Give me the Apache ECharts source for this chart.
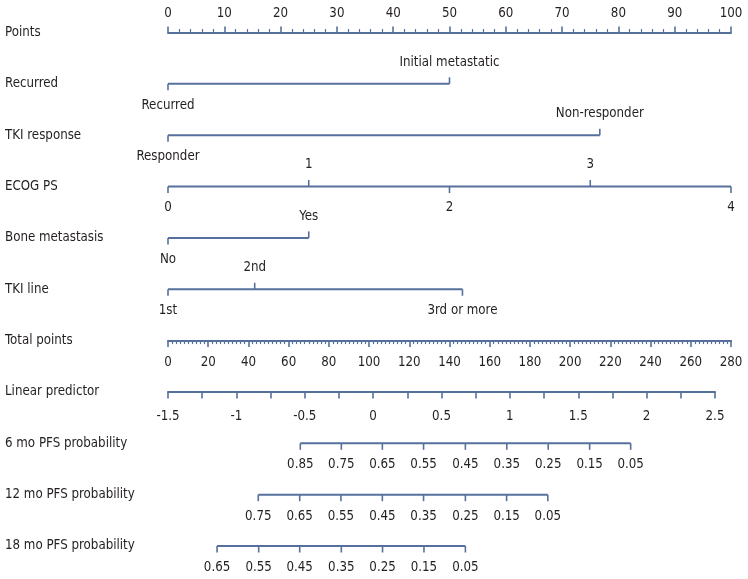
<!DOCTYPE html>
<html><head><meta charset="utf-8">
<script src="https://cdn.jsdelivr.net/npm/echarts@6/dist/echarts.min.js"></script>
<style>html,body{margin:0;padding:0;background:#fff}#c{width:748px;height:579px}</style>
</head><body><div id="c"></div>
<script>
// ---- data ----
const rowNames = ['Points','Recurred','TKI response','ECOG PS','Bone metastasis','TKI line','Total points','Linear predictor','6 mo PFS probability','12 mo PFS probability','18 mo PFS probability'];
const recurredLabels = ['Recurred','Initial metastatic'];
const recurredPoints = [0, 50];
const tkiResponseLabels = ['Responder','Non-responder'];
const tkiResponsePoints = [0, 76.7];
const ecogLabels = ['0','1','2','3','4'];
const ecogPoints = [0, 25, 50, 75, 100];
const boneLabels = ['No','Yes'];
const bonePoints = [0, 25];
const tkiLineLabels = ['1st','2nd','3rd or more'];
const tkiLinePoints = [0, 15.4, 52.3];
// probability scales: tick positions read on the Total points scale
const pfs6Labels = ['0.85','0.75','0.65','0.55','0.45','0.35','0.25','0.15','0.05'];
const pfs6Total = [65.8, 86.2, 106.6, 127.1, 147.9, 168.5, 189.1, 209.7, 230.1];
const pfs12Labels = ['0.75','0.65','0.55','0.45','0.35','0.25','0.15','0.05'];
const pfs12Total = [44.9, 65.5, 86.0, 106.6, 127.1, 147.9, 168.4, 188.9];
const pfs18Labels = ['0.65','0.55','0.45','0.35','0.25','0.15','0.05'];
const pfs18Total = [24.4, 45.1, 65.5, 86.2, 106.7, 127.3, 147.9];
const pointsRange = [0, 100];
const totalRange = [0, 280];
const lpRange = [-1.5, 2.5];

// ---- style ----
const LINE = '#56709c';
const TEXT = '#231f20';
const FONT = "'DejaVu Sans Condensed','Liberation Sans Narrow',sans-serif";
const FS = 13.2;
const TOP = 32.5, STEP = 51.35;

const chart = echarts.init(document.getElementById('c'));

function levelItems(labels, pts, row) {
  return labels.map((l, i) => ({ value: [pts[i], row, i % 2 === 0 ? -1 : 1], name: l }));
}
const varItems = [].concat(
  levelItems(recurredLabels, recurredPoints, 1),
  levelItems(tkiResponseLabels, tkiResponsePoints, 2),
  levelItems(ecogLabels, ecogPoints, 3),
  levelItems(boneLabels, bonePoints, 4),
  levelItems(tkiLineLabels, tkiLinePoints, 5)
);
function probItems(labels, pos, row) {
  return labels.map((l, i) => ({ value: [pos[i], row, -1], name: l }));
}
const probData = [].concat(
  probItems(pfs6Labels, pfs6Total, 8),
  probItems(pfs12Labels, pfs12Total, 9),
  probItems(pfs18Labels, pfs18Total, 10)
);

function makeRender(items) {
  return function (params, api) {
    const p = api.coord([api.value(0), api.value(1)]);
    const side = api.value(2);
    return {
      type: 'group',
      children: [
        { type: 'line', shape: { x1: p[0], y1: p[1], x2: p[0], y2: p[1] - side * 6.5 },
          style: { stroke: LINE, lineWidth: 1.6 } },
        { type: 'text', style: { text: items[params.dataIndex].name, x: p[0], y: p[1] - side * 21.5,
          align: 'center', verticalAlign: 'middle', fill: TEXT, font: FS + 'px ' + FONT } }
      ]
    };
  };
}
function segLine(pts, row, xi) {
  return { type: 'line', xAxisIndex: xi, yAxisIndex: 0, symbol: 'none', silent: true,
    lineStyle: { color: LINE, width: 2 },
    data: [[pts[0], row], [pts[pts.length - 1], row]] };
}

const lineStyle = { color: LINE, width: 2 };
const tickStyle = { color: LINE, width: 1.6 };
const minorStyle = { color: LINE, width: 1.2 };
const labelStyle = { color: TEXT, fontSize: FS, fontFamily: FONT };

chart.setOption({
  animation: false,
  grid: [
    { left: 168, width: 563, top: TOP, height: STEP * 10 },
    { left: 168, width: 563, top: TOP + STEP * 6, height: 0 },
    { left: 168, width: 547, top: TOP + STEP * 7, height: 0 }
  ],
  xAxis: [
    { type: 'value', gridIndex: 0, position: 'top', min: pointsRange[0], max: pointsRange[1], interval: 10,
      axisLine: { show: true, onZero: false, lineStyle: lineStyle }, splitLine: { show: false }, minorSplitLine: { show: false },
      axisTick: { show: true, length: 6, lineStyle: tickStyle },
      minorTick: { show: true, splitNumber: 5, length: 3.5, lineStyle: minorStyle },
      axisLabel: Object.assign({ margin: 12 }, labelStyle) },
    { type: 'value', gridIndex: 0, show: false, min: totalRange[0], max: totalRange[1] },
    { type: 'value', gridIndex: 1, position: 'bottom', min: totalRange[0], max: totalRange[1], interval: 20,
      axisLine: { show: true, onZero: false, lineStyle: lineStyle }, splitLine: { show: false }, minorSplitLine: { show: false },
      axisTick: { show: true, length: 6.5, lineStyle: tickStyle },
      minorTick: { show: true, splitNumber: 10, length: 3.5, lineStyle: minorStyle },
      axisLabel: Object.assign({ margin: 15 }, labelStyle) },
    { type: 'value', gridIndex: 2, position: 'bottom', min: lpRange[0], max: lpRange[1], interval: 0.5,
      axisLine: { show: true, onZero: false, lineStyle: lineStyle }, splitLine: { show: false }, minorSplitLine: { show: false },
      axisTick: { show: true, length: 6.5, lineStyle: tickStyle },
      minorTick: { show: true, splitNumber: 2, length: 6.5, lineStyle: tickStyle },
      axisLabel: Object.assign({ margin: 18 }, labelStyle) }
  ],
  yAxis: [
    { type: 'category', gridIndex: 0, inverse: true, boundaryGap: false, data: rowNames,
      axisLine: { show: false }, axisTick: { show: false }, splitLine: { show: false },
      axisLabel: { align: 'left', margin: 163, color: TEXT, fontSize: FS, fontFamily: FONT, padding: [0, 0, 3, 0] } },
    { type: 'value', gridIndex: 1, show: false, min: 0, max: 1 },
    { type: 'value', gridIndex: 2, show: false, min: 0, max: 1 }
  ],
  series: [
    segLine(recurredPoints, 1, 0),
    segLine(tkiResponsePoints, 2, 0),
    segLine(ecogPoints, 3, 0),
    segLine(bonePoints, 4, 0),
    segLine(tkiLinePoints, 5, 0),
    segLine(pfs6Total, 8, 1),
    segLine(pfs12Total, 9, 1),
    segLine(pfs18Total, 10, 1),
    { type: 'custom', xAxisIndex: 0, yAxisIndex: 0, data: varItems, renderItem: makeRender(varItems), silent: true },
    { type: 'custom', xAxisIndex: 1, yAxisIndex: 0, data: probData, renderItem: makeRender(probData), silent: true }
  ]
});
</script></body></html>
